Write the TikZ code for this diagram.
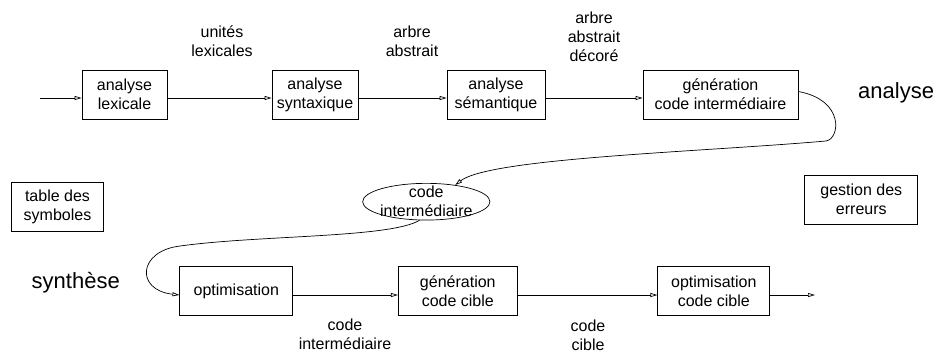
\documentclass[tikz,border=0pt]{standalone}
\usepackage{fontspec}
\setmainfont{Liberation Sans}
\usetikzlibrary{arrows.meta,shapes.geometric}
\begin{document}
\begin{tikzpicture}[x=1pt,y=-1pt,
  every node/.style={font=\fontsize{16}{19}\selectfont, align=center},
  stage/.style={draw, rectangle, inner sep=0pt, line width=0.7pt, minimum height=49pt},
  twoline/.style={execute at begin node={\rule{0pt}{18pt}}},
  note/.style={anchor=base},
  big/.style={font=\fontsize{22}{26}\selectfont, anchor=base west, inner sep=0pt},
  flow/.style={line width=0.7pt, -{Triangle[open,length=7pt,width=4pt]}},
]
\useasboundingbox (0,0) rectangle (935,354);

% analysis chain
\node[stage, twoline, minimum width=85pt]  (lex) at (124.5,94.5) {analyse\\lexicale};
\node[stage, twoline, minimum width=86pt]  (syn) at (315,94.5)   {analyse\\syntaxique};
\node[stage, twoline, minimum width=98pt]  (sem) at (496,94.5)   {analyse\\sémantique};
\node[stage, twoline, minimum width=155pt] (gci) at (720.5,94.5) {génération\\code intermédiaire};

% synthesis chain
\node[stage, minimum width=113pt]          (opt) at (236.3,291.3) {optimisation};
\node[stage, twoline, minimum width=119pt] (gcc) at (457.8,291.3) {génération\\code cible};
\node[stage, twoline, minimum width=112pt] (occ) at (713.8,291.3) {optimisation\\code cible};

% side boxes
\node[stage, twoline, minimum width=92pt]  (tds) at (57.5,207)   {table des\\symboles};
\node[stage, twoline, minimum width=113pt] (ger) at (861.3,199.7) {gestion des\\erreurs};

% intermediate code
\node[draw, ellipse, line width=0.7pt, inner sep=0pt, minimum width=127.3pt, minimum height=36.7pt] (ci) at (426.3,201.7) {};
\node (citext) at (ci.center) {code\\intermédiaire};

% phase names
\node[big] (pa) at (858,98.5) {analyse};
\node[big] (ps) at (31.5,288) {synthèse};

% data labels (anchored on the baseline of their last line)
\node[note] (l1) at (222,56) {unités\\lexicales};
\node[note] (l2) at (412,56) {arbre\\abstrait};
\node[note] (l3) at (594,61) {arbre\\abstrait\\décoré};
\node[note] (l4) at (345,349) {code\\intermédiaire};
\node[note] (l5) at (588,350) {code\\cible};

% free ends
\coordinate (in)  at (40,98);
\coordinate (out) at (815,295);

% connectors
\draw[flow] (in) -- ([yshift=-3.5pt]lex.west);
\draw[flow] ([yshift=-3.5pt]lex.east) -- ([yshift=-3.5pt]syn.west);
\draw[flow] ([yshift=-3.5pt]syn.east) -- ([yshift=-3.5pt]sem.west);
\draw[flow] ([yshift=-3.5pt]sem.east) -- ([yshift=-3.5pt]gci.west);
\draw[flow] ([yshift=3pt]gci.east) .. controls (845,100) and (840,139) .. (826,141)
  .. controls (700,152) and (490,158) .. (ci.30);
\draw[flow] (ci.250) .. controls (390,238) and (260,235) .. (180,246)
  .. controls (138,251) and (135,290) .. ([yshift=-3.7pt]opt.west);
\draw[flow] ([yshift=-3.7pt]opt.east) -- ([yshift=-3.7pt]gcc.west);
\draw[flow] ([yshift=-3.7pt]gcc.east) -- ([yshift=-3.7pt]occ.west);
\draw[flow] ([yshift=-3.7pt]occ.east) -- (out);
\end{tikzpicture}
\end{document}
